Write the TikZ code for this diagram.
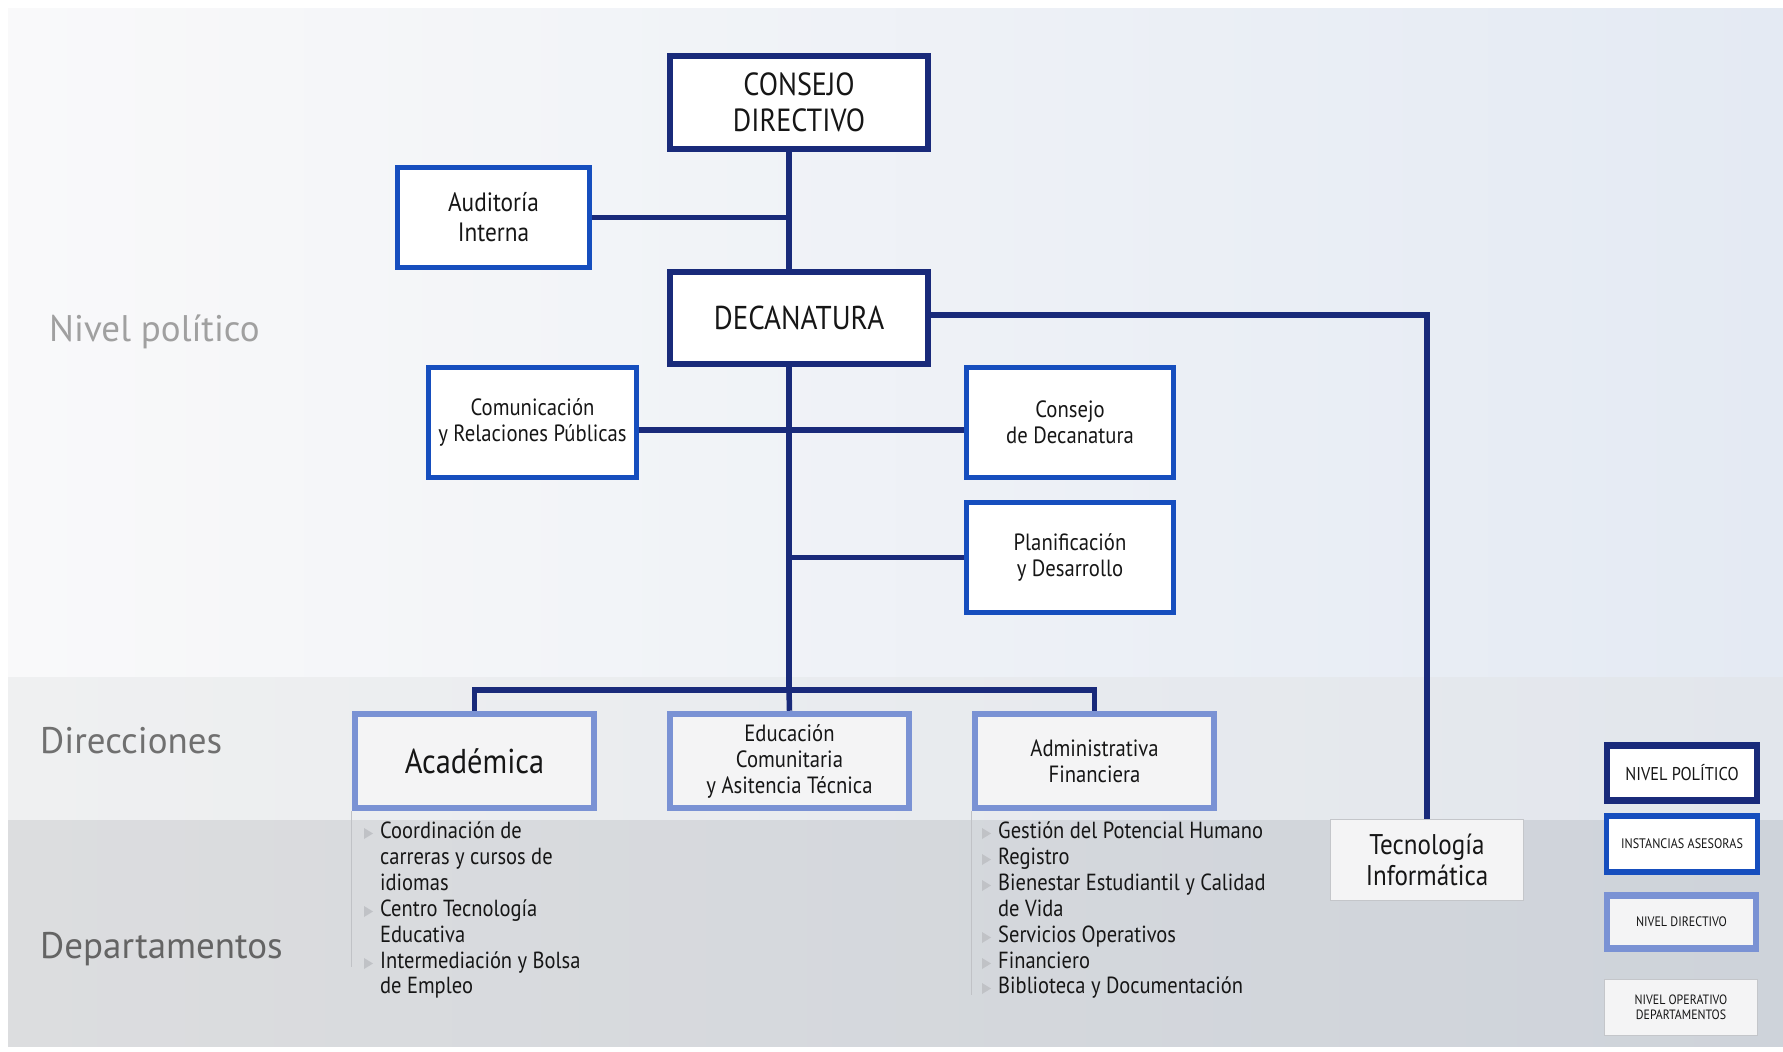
\documentclass[tikz,border=0pt]{standalone}
\usepackage{fontspec}
\setmainfont{PT Sans}
\newfontfamily\condfont[FakeStretch=0.88]{PT Sans}
\pgfdeclarelayer{bg}
\pgfdeclarelayer{edges}
\pgfsetlayers{bg,edges,main}
\definecolor{navy}{RGB}{25,42,122}
\definecolor{advblue}{RGB}{22,78,190}
\definecolor{dirblue}{RGB}{122,146,212}
\definecolor{opgray}{RGB}{196,198,202}
\definecolor{txt}{RGB}{22,22,22}
\definecolor{bulgray}{RGB}{192,194,198}
\definecolor{topL}{RGB}{249,249,250}
\definecolor{topR}{RGB}{228,234,243}
\definecolor{dirL}{RGB}{239,240,241}
\definecolor{dirR}{RGB}{226,230,236}
\definecolor{depL}{RGB}{220,221,223}
\definecolor{depR}{RGB}{206,211,218}
\definecolor{boxfill}{RGB}{244,244,245}
\tikzset{
  box/.style={rectangle, align=center, inner sep=0pt, text=txt, font=\condfont},
  pol/.style={box, draw=navy, line width=6.5pt, fill=white},
  ase/.style={box, draw=advblue, line width=5.5pt, fill=white},
  dirbox/.style={box, draw=dirblue, line width=6.5pt, fill=boxfill},
  ope/.style={box, draw=opgray, line width=1.5pt, fill=boxfill},
  conn/.style={draw=navy, line width=5.5pt},
  sidelbl/.style={anchor=base west, inner sep=0pt, font=\fontsize{37}{40}\selectfont},
  item/.style={anchor=base west, inner sep=0pt, text=txt, font=\condfont\fontsize{23.3}{26}\selectfont},
  bullet/.style={fill=bulgray},
  listline/.style={draw=bulgray, line width=1.2pt},
  small/.style={font=\condfont\fontsize{23.5}{26}\selectfont},
}
\begin{document}
\begin{tikzpicture}[x=1pt,y=-1pt]
\useasboundingbox (0,0) rectangle (1783,1052);
\begin{pgfonlayer}{bg}
  \fill[white] (0,0) rectangle (1783,1052);
  \shade[left color=topL, right color=topR] (8,8) rectangle (1783,677);
  \shade[left color=dirL, right color=dirR] (8,677) rectangle (1783,820);
  \shade[left color=depL, right color=depR] (8,820) rectangle (1783,1046);
\end{pgfonlayer}

% side labels
\node[sidelbl, text={rgb,255:red,160;green,160;blue,160}] (lpol) at (49,341) {Nivel político};
\node[sidelbl, text={rgb,255:red,112;green,112;blue,112}] (ldir) at (40,753) {Direcciones};
\node[sidelbl, text={rgb,255:red,100;green,100;blue,100}] (ldep) at (40,958) {Departamentos};

% political level
\node[pol, minimum width=258, minimum height=93, font=\condfont\fontsize{32}{36}\selectfont] (cd) at (799,102.5) {CONSEJO\\DIRECTIVO};
\node[pol, minimum width=258, minimum height=92, font=\condfont\fontsize{33}{36}\selectfont] (dec) at (799,318) {DECANATURA};

% advisory
\node[ase, minimum width=192, minimum height=100, font=\condfont\fontsize{26.5}{30}\selectfont] (aud) at (493.5,217.5) {Auditoría\\Interna};
\node[ase, small, minimum width=208, minimum height=110] (com) at (532.5,422.5) {Comunicación\\y Relaciones Públicas};
\node[ase, small, minimum width=207, minimum height=110] (cdec) at (1070,422.5) {Consejo\\de Decanatura};
\node[ase, small, minimum width=207, minimum height=110] (plan) at (1070,557.5) {Planificación\\y Desarrollo};

% directive
\node[dirbox, minimum width=239, minimum height=94, font=\condfont\fontsize{34.5}{36}\selectfont] (aca) at (474.5,761) {Académica};
\node[dirbox, small, minimum width=239, minimum height=94] (edu) at (789.5,761) {Educación\\Comunitaria\\y Asitencia Técnica};
\node[dirbox, small, minimum width=239, minimum height=94] (adm) at (1094.5,761) {Administrativa\\Financiera};

% operative
\node[ope, minimum width=193, minimum height=81, font=\condfont\fontsize{28.5}{31}\selectfont] (tec) at (1427,860) {Tecnología\\Informática};

% legend
\node[pol, minimum width=150, minimum height=55, font=\condfont\fontsize{18.5}{20}\selectfont] (lgp) at (1682,773) {NIVEL POLÍTICO};
\node[ase, minimum width=151, minimum height=56, font=\condfont\fontsize{13.8}{15}\selectfont] (lgs) at (1682,844) {INSTANCIAS ASESORAS};
\node[dirbox, minimum width=149, minimum height=53, font=\condfont\fontsize{13.7}{15}\selectfont] (lgd) at (1681.5,922) {NIVEL DIRECTIVO};
\node[ope, minimum width=153, minimum height=56, font=\condfont\fontsize{13.5}{15.5}\selectfont] (lgo) at (1681,1007.5) {NIVEL OPERATIVO\\DEPARTAMENTOS};

% connectors
\coordinate (tr) at (789,690);
\begin{pgfonlayer}{edges}
  \draw[conn] (cd.south -| tr) -- (dec.north -| tr);
  \draw[conn] (aud.east) -- (aud.east -| tr);
  \draw[conn] (dec.south -| tr) -- (tr);
  \draw[conn] ([yshift=-7.5]com.east) -- ([yshift=-7.5]cdec.west);
  \draw[conn] (plan.west) -- (plan.west -| tr);
  \draw[conn] (aca.north) |- (tr) -| (adm.north);
  \draw[conn] (tr) -- (edu.north);
  \draw[conn] ([yshift=3]dec.east) -| (tec.north);
\end{pgfonlayer}

% Académica list
\draw[listline] (aca.south west) -- ++(0,156);
\node[item] (a1) at (380,838) {Coordinación de};
\node[item] (a2) at (380,864) {carreras y cursos de};
\node[item] (a3) at (380,890) {idiomas};
\node[item] (a4) at (380,916) {Centro Tecnología};
\node[item] (a5) at (380,942) {Educativa};
\node[item] (a6) at (380,968) {Intermediación y Bolsa};
\node[item] (a7) at (380,993) {de Empleo};
\foreach \n in {a1,a4,a6}{
  \fill[bullet] ([xshift=-16,yshift=-1]\n.base west) -- ++(0,-11) -- ++(9,5.5) -- cycle;
}

% Administrativa list
\draw[listline] (adm.south west) -- ++(0,184);
\node[item] (f1) at (998,838) {Gestión del Potencial Humano};
\node[item] (f2) at (998,864) {Registro};
\node[item] (f3) at (998,890) {Bienestar Estudiantil y Calidad};
\node[item] (f4) at (998,916) {de Vida};
\node[item] (f5) at (998,942) {Servicios Operativos};
\node[item] (f6) at (998,968) {Financiero};
\node[item] (f7) at (998,993) {Biblioteca y Documentación};
\foreach \n in {f1,f2,f3,f5,f6,f7}{
  \fill[bullet] ([xshift=-16,yshift=-1]\n.base west) -- ++(0,-11) -- ++(9,5.5) -- cycle;
}
\end{tikzpicture}
\end{document}
